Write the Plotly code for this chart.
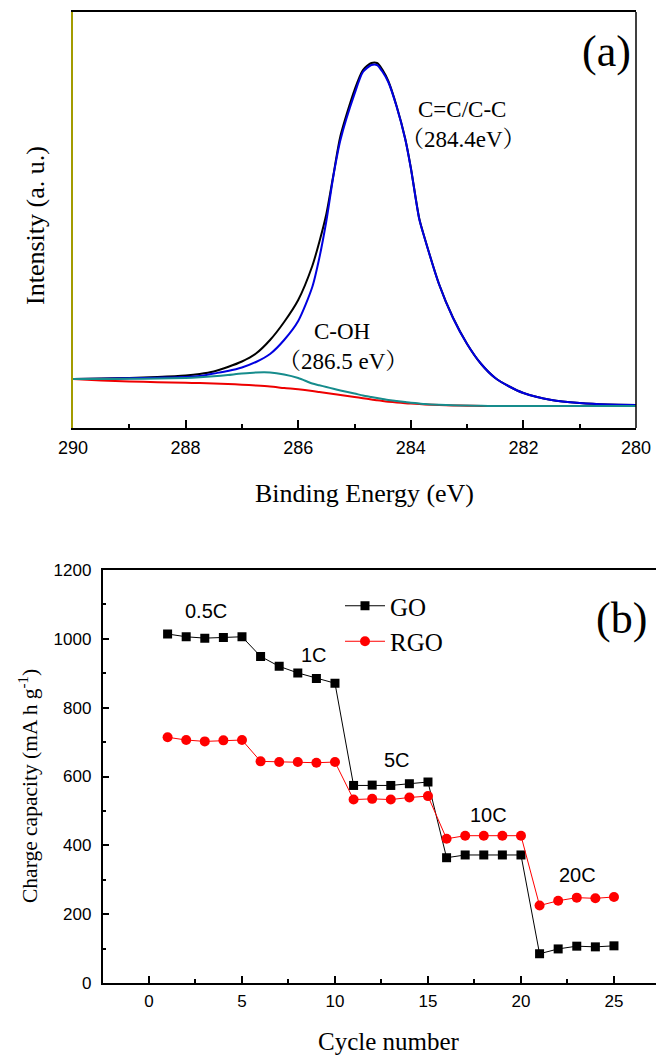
import plotly.graph_objects as go

# ---------------- Panel (a): XPS C1s ----------------
binding_energy = [290, 289.5, 289, 288.5, 288, 287.75, 287.5, 287.25, 287, 286.75, 286.5,
                  286.25, 286, 285.75, 285.625, 285.5, 285.375, 285.25, 285, 284.85, 284.7,
                  284.6, 284.5, 284.4, 284.25, 284.1, 284, 283.85, 283.75, 283.5, 283.25,
                  283, 282.75, 282.5, 282.25, 282, 281.5, 281, 280.5, 280]
envelope = [49, 49.5, 50, 51, 52.5, 54, 56.5, 61, 66.5, 74.5, 88, 106, 128, 162, 186, 214,
            253, 292, 338, 358, 365, 365, 358, 347, 321.5, 289.5, 260.5, 209.5, 189.3,
            144.2, 110.2, 84.1, 64, 50, 41.5, 35, 28, 25, 23.5, 23]
cc_peak = [49, 49.3, 49.7, 50.3, 51, 52, 54.5, 57, 60.5, 66, 74, 88, 107, 141, 170, 207,
           252, 288, 334, 356, 363, 363, 356, 346, 321, 289, 260, 209, 189, 144, 110, 84,
           64, 50, 41.5, 35, 28, 25, 23.5, 23]
coh_peak = [49, 49, 49.2, 49.5, 50, 50.7, 51.7, 53, 54.5, 55.5, 55.5, 53.5, 50, 44.5, 42.7,
            41, 39.2, 37.5, 34.5, 32.5, 31, 30, 29, 28, 27, 26, 25.3, 24.5, 24, 23.2, 22.7,
            22.4, 22.2, 22, 22, 22, 22, 22, 22, 22]
background = [49, 47.5, 46.5, 45.8, 45.2, 45, 44.5, 44, 43.3, 42.5, 41.5, 40, 38.7, 37, 36,
              35, 34, 33, 31, 29.8, 28.5, 27.8, 27, 26.3, 25.5, 24.8, 24.4, 23.9, 23.6, 23,
              22.6, 22.3, 22.1, 22, 22, 22, 22, 22, 22, 22]

# ---------------- Panel (b): rate capability ----------------
cycles = list(range(1, 26))
go_capacity = [1014, 1006, 1002, 1004, 1006, 949, 920, 901, 885, 871,
               574, 575, 574, 579, 584, 364, 372, 372, 372, 372,
               85, 99, 107, 105, 108]
rgo_capacity = [714, 706, 702, 705, 706, 644, 642, 642, 640, 642,
                533, 535, 533, 539, 543, 419, 428, 428, 428, 428,
                225, 239, 248, 246, 250]
rate_labels = ["0.5C", "1C", "5C", "10C", "20C"]

W, H = 656, 1055
SERIF = "Liberation Serif, Times New Roman, Noto Serif CJK SC, Noto Sans CJK SC, serif"
SANS = "Liberation Sans, Arial, sans-serif"


def px(x):
    return x / W


def py(y):
    return 1 - y / H


fig = go.Figure()

spline = dict(shape="spline", smoothing=0.7)
fig.add_trace(go.Scatter(x=binding_energy, y=envelope, mode="lines",
                         line=dict(color="#000000", width=2, **spline),
                         showlegend=False, xaxis="x", yaxis="y"))
fig.add_trace(go.Scatter(x=binding_energy, y=cc_peak, mode="lines",
                         line=dict(color="#0000e0", width=2, **spline),
                         showlegend=False, xaxis="x", yaxis="y"))
fig.add_trace(go.Scatter(x=binding_energy, y=background, mode="lines",
                         line=dict(color="#ee0000", width=2, **spline),
                         showlegend=False, xaxis="x", yaxis="y"))
fig.add_trace(go.Scatter(x=binding_energy, y=coh_peak, mode="lines",
                         line=dict(color="#168c8c", width=2, **spline),
                         showlegend=False, xaxis="x", yaxis="y"))

fig.add_trace(go.Scatter(x=cycles, y=go_capacity, mode="lines+markers", name="GO",
                         line=dict(color="#000000", width=1),
                         marker=dict(symbol="square", size=9, color="#000000"),
                         xaxis="x2", yaxis="y2", legendgroup="g1"))
fig.add_trace(go.Scatter(x=cycles, y=rgo_capacity, mode="lines+markers", name="RGO",
                         line=dict(color="#ff0000", width=1),
                         marker=dict(symbol="circle", size=10, color="#ff0000"),
                         xaxis="x2", yaxis="y2", legendgroup="g2"))

annotations = [
    dict(text="Intensity (a. u.)", x=px(35), y=py(226), textangle=-90, font=dict(family=SERIF, size=26)),
    dict(text="Binding Energy (eV)", x=px(364), y=py(494), font=dict(family=SERIF, size=26)),
    dict(text="(a)", x=px(606), y=py(52), font=dict(family=SERIF, size=44)),
    dict(text="C=C/C-C", x=px(462), y=py(110), font=dict(family=SERIF, size=23)),
    dict(text="（284.4eV）", x=px(463), y=py(139), font=dict(family=SERIF, size=23)),
    dict(text="C-OH", x=px(342), y=py(332), font=dict(family=SERIF, size=23)),
    dict(text="（286.5 eV）", x=px(343), y=py(361), font=dict(family=SERIF, size=23)),
    dict(text="Charge capacity (mA h g<sup>-1</sup>)", x=px(28), y=py(786), textangle=-90,
         font=dict(family=SERIF, size=21.5)),
    dict(text="Cycle number", x=px(389), y=py(1041), font=dict(family=SERIF, size=25)),
    dict(text="(b)", x=px(621), y=py(618), font=dict(family=SERIF, size=44)),
]
label_pos = [(206, 611), (314, 655), (397, 760), (488, 815), (577, 875)]
for t, (lx, ly) in zip(rate_labels, label_pos):
    annotations.append(dict(text=t, x=px(lx), y=py(ly), font=dict(family=SANS, size=20)))
for a in annotations:
    a.update(xref="paper", yref="paper", showarrow=False, xanchor="center", yanchor="middle")
    a["font"]["color"] = "#000000"

fig.update_layout(
    template="none",
    width=W, height=H, autosize=False,
    margin=dict(l=0, r=0, t=0, b=0, pad=0),
    paper_bgcolor="white", plot_bgcolor="white",
    annotations=annotations,
    xaxis=dict(domain=[px(73), px(636)], range=[290, 280], anchor="y", automargin=False,
               tickvals=[290, 288, 286, 284, 282, 280], ticks="inside", ticklen=8,
               tickwidth=1.5, tickcolor="#000000", ticklabelstandoff=3,
               minor=dict(dtick=1, tick0=280, ticks="inside", ticklen=4, tickwidth=1.5,
                          tickcolor="#000000"),
               showline=True, linecolor="#000000", linewidth=1.5, mirror=True,
               showgrid=False, zeroline=False,
               tickfont=dict(family=SANS, size=18, color="#000000")),
    yaxis=dict(domain=[py(428), py(12)], range=[0, 416], anchor="x", automargin=False,
               showticklabels=False, ticks="", showline=True, linecolor="#a39c00",
               linewidth=2, mirror=False, showgrid=False, zeroline=False),
    xaxis2=dict(domain=[px(102.5), 1.0], range=[-2.5, 27.26], anchor="y2", automargin=False,
                tickvals=[0, 5, 10, 15, 20, 25], ticks="inside", ticklen=7, tickwidth=1.5,
                tickcolor="#000000", ticklabelstandoff=2,
                minor=dict(dtick=2.5, tick0=0, ticks="inside", ticklen=4, tickwidth=1.5,
                           tickcolor="#000000"),
                showline=True, linecolor="#000000", linewidth=1.5, mirror=True,
                showgrid=False, zeroline=False,
                tickfont=dict(family=SANS, size=17, color="#000000")),
    yaxis2=dict(domain=[py(983), py(570)], range=[0, 1200], anchor="x2", automargin=False,
                dtick=200, ticks="inside", ticklen=7, tickwidth=1.5, tickcolor="#000000",
                ticklabelstandoff=6,
                minor=dict(dtick=100, ticks="inside", ticklen=4, tickwidth=1.5,
                           tickcolor="#000000"),
                showline=True, linecolor="#000000", linewidth=1.5, mirror=False,
                showgrid=False, zeroline=False,
                tickfont=dict(family=SANS, size=17, color="#000000")),
    legend=dict(x=px(340), y=py(583), xanchor="left", yanchor="top",
                font=dict(family=SERIF, size=25, color="#000000"),
                bgcolor="rgba(0,0,0,0)", borderwidth=0, tracegroupgap=0, itemwidth=40),
    shapes=[dict(type="line", xref="x domain", yref="y domain", x0=1, x1=1, y0=0, y1=1,
                 line=dict(color="#000000", width=1.5))],
)

fig.write_html("out.html")
